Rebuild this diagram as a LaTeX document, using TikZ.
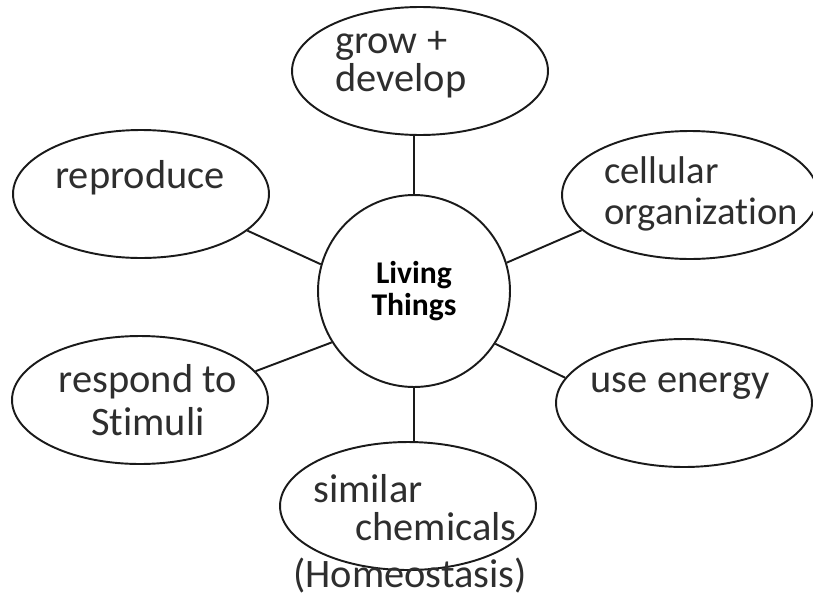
\documentclass[tikz,border=0pt]{standalone}
\usepackage{fontspec}
\setmainfont{Carlito}[Ligatures=NoCommon]
\usetikzlibrary{shapes.geometric}
\definecolor{mapink}{HTML}{1A1A1A}
\definecolor{mappencil}{HTML}{2E2E2E}

\begin{document}
\begin{tikzpicture}[
  x=0.02cm, y=-0.02cm,
  hub/.style={draw=mapink, line width=1.1pt, circle, minimum size=3.84cm, inner sep=0pt, align=center, font=\bfseries\fontsize{18}{18}\selectfont},
  trait/.style={draw=mapink, line width=1.1pt, ellipse, minimum width=5.12cm, minimum height=2.56cm, inner sep=0pt},
  hand/.style={text=mappencil, inner sep=0pt, font=\fontsize{23}{#1}\selectfont},
  spoke/.style={draw=mapink, line width=1.1pt}
]
\useasboundingbox (0,0) rectangle (813,612);
\node[hub] (core) at (414,291) {Living\\Things};

\node[trait] (grow) at (420,71) {};
\node[trait] (repro) at (141,194) {};
\node[trait] (cell) at (690,195) {};
\node[trait] (resp) at (140,400) {};
\node[trait] (energy) at (684,403) {};
\node[trait] (sim) at (408,506) {};

\node[hand=21.6pt, align=left, anchor=west] (growtxt) at (335,65) {grow +\\develop};
\node[hand=23pt, anchor=base] (reprotxt) at (140,188) {reproduce};
\node[hand=23pt, font=\fontsize{22}{23.5}\selectfont, align=left, anchor=west] (celltxt) at (604,194) {cellular\\organization};
\node[hand=24.5pt, align=center] (resptxt) at (148,400) {respond to\\Stimuli};
\node[hand=23pt, anchor=base] (energytxt) at (680,392) {use energy};
\node[hand=21.6pt, align=left, anchor=west] (simtxt) at (313,508) {similar\\\hspace*{0.84cm}chemicals};
\node[hand=23pt, anchor=base] (homeo) at (410,587) {(Homeostasis)};

\draw[spoke] (core.north) -- (core.north |- grow.south);
\draw[spoke] (core.south) -- (core.south |- sim.north);
\draw[spoke] (core.164) -- (repro.341);
\draw[spoke] (core.17) -- (cell.198);
\draw[spoke] (core.212) -- (resp.14);
\draw[spoke] (core.327) -- (energy.168);
\end{tikzpicture}
\end{document}
